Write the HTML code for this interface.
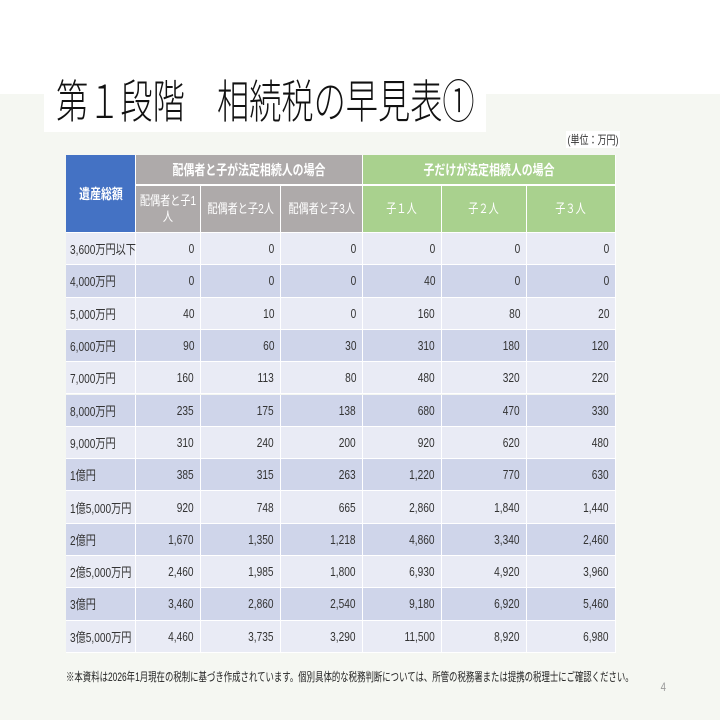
<!DOCTYPE html>
<html><head><meta charset="utf-8"><style>
body{margin:0;width:720px;height:720px;overflow:hidden;background:#fff;position:relative;font-family:"Liberation Sans","Noto Sans CJK JP",sans-serif;}
.bg{position:absolute;left:0;top:94px;width:720px;height:626px;background:#f5f7f2;}
.title{position:absolute;left:44px;top:62px;width:442px;height:70px;background:#fff;}
.title span{position:absolute;left:12px;top:4px;font-size:46px;color:#111;white-space:nowrap;font-weight:300;transform:scaleX(.7);transform-origin:left;}
.unit{position:absolute;left:566px;top:131px;font-size:12px;color:#333;background:#fff;padding:0 2px;transform:scaleX(.75);transform-origin:left;}
.c{position:absolute;box-sizing:border-box;display:flex;align-items:center;color:#333;font-size:13px;white-space:nowrap;overflow:visible;border-right:1px solid #fff;border-bottom:1px solid #fff;}
.c span{display:inline-block;transform:scaleX(.78);}
.h{color:#fff;font-weight:bold;justify-content:center;text-align:center;line-height:16px;white-space:normal;}
.note{position:absolute;left:66px;top:668px;font-size:12px;color:#222;transform:scaleX(.7);transform-origin:left;white-space:nowrap;}
.pg{position:absolute;left:660px;top:680px;font-size:12px;color:#999;transform:scaleX(.8);}
</style></head><body>
<div class="bg"></div>
<div class="title"><span>第１段階　相続税の早見表①</span></div>
<div class="unit">(単位：万円)</div>
<div id="tbl"></div>
<div class="note">※本資料は2026年1月現在の税制に基づき作成されています。個別具体的な税務判断については、所管の税務署または提携の税理士にご確認ください。</div>
<div class="pg">4</div>
<script>
const categories=["3,600万円以下","4,000万円","5,000万円","6,000万円","7,000万円","8,000万円","9,000万円","1億円","1億5,000万円","2億円","2億5,000万円","3億円","3億5,000万円"];
const spouse1=["0","0","40","90","160","235","310","385","920","1,670","2,460","3,460","4,460"];
const spouse2=["0","0","10","60","113","175","240","315","748","1,350","1,985","2,860","3,735"];
const spouse3=["0","0","0","30","80","138","200","263","665","1,218","1,800","2,540","3,290"];
const child1=["0","40","160","310","480","680","920","1,220","2,860","4,860","6,930","9,180","11,500"];
const child2=["0","0","80","180","320","470","620","770","1,840","3,340","4,920","6,920","8,920"];
const child3=["0","0","20","120","220","330","480","630","1,440","2,460","3,960","5,460","6,980"];
const subHeaders=["配偶者と子1人","配偶者と子2人","配偶者と子3人","子１人","子２人","子３人"];
const series=[spouse1,spouse2,spouse3,child1,child2,child3];
const xs=[66,136,201,281,363,442,527,616];
const tbl=document.getElementById('tbl');
function cell(x,y,w,h,txt,bg,cls,name,origin){
  const d=document.createElement('div');
  d.className='c '+(cls||'');
  d.style.cssText=`left:${x}px;top:${y}px;width:${w}px;height:${h}px;background:${bg};`;
  const s=document.createElement('span');
  s.textContent=txt;
  s.style.transformOrigin=origin||'center';
  d.appendChild(s);
  
  
  tbl.appendChild(d);return d;
}
cell(66,155,70,78,"遺産総額","#4472c4","h","header-estate-total").style.fontSize="14px";
let g=cell(136,155,227,31,"配偶者と子が法定相続人の場合","#aeaaaa","h","header-spouse-group");g.style.fontSize="14px";g.style.borderBottom="2px solid #fff";
g=cell(363,155,253,31,"子だけが法定相続人の場合","#a9d18e","h","header-children-group");g.style.fontSize="14px";g.style.borderBottom="2px solid #fff";
for(let j=0;j<6;j++){
  const s=cell(xs[j+1],186,xs[j+2]-xs[j+1],47,subHeaders[j],j<3?"#aeaaaa":"#a9d18e","h","subheader-"+(j+1));
  s.style.fontWeight="normal";
  if(j===0){s.firstChild.style.width="82px";s.firstChild.style.flexShrink="0";}
  else{s.firstChild.style.whiteSpace="nowrap";}
}
const top0=233,rh=32.3;
for(let i=0;i<categories.length;i++){
  const y=top0+i*rh, bg=i%2? "#cfd5ea":"#e9ebf5";
  const c=cell(66,y,70,rh,categories[i],bg,"","row-label-"+(i+1),"left");c.style.paddingLeft="4px";
  for(let j=0;j<6;j++){
    const v=cell(xs[j+1],y,xs[j+2]-xs[j+1],rh,series[j][i],bg,"","value-r"+(i+1)+"-c"+(j+1),"right");
    v.style.justifyContent="flex-end";v.style.paddingRight="6px";
  }
}
</script>
</body></html>
